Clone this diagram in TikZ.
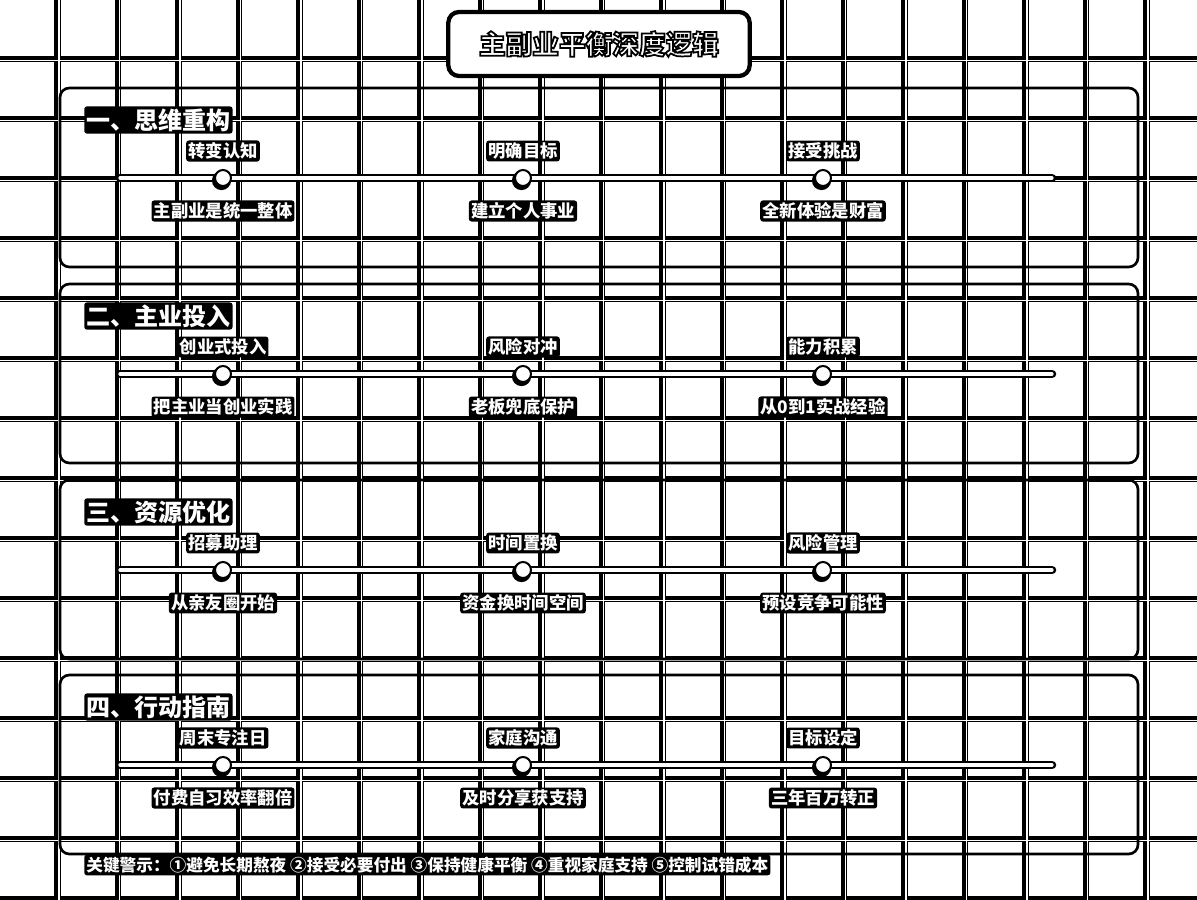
\documentclass[tikz,border=0pt]{standalone}
\usepackage{fontspec}
\setmainfont{Noto Sans CJK SC}
\usetikzlibrary{positioning}
% weisse Schrift mit schwarzem Rand
\newcommand{\umriss}[1]{\special{pdf:literal direct 2 Tr 1.3 w 0 G}#1\special{pdf:literal direct 0 Tr}}

\begin{document}
\begin{tikzpicture}[x=0.75pt, y=-0.75pt,
			raster/.style={line width=5pt, black},
			rasterhell/.style={line width=1.2pt, white},
			tafel/.style={draw=black, line width=2pt, rounded corners=7pt},
			zeitlinie/.style={draw=black, double=white, double distance=2.4pt, line width=2pt, line cap=round},
			punkt/.style={circle, fill=white, draw=black, line width=1.5pt, minimum size=12pt, inner sep=0pt},
			etikett/.style={fill=black, text=white, inner sep=1.6pt, rounded corners=2pt,
				font=\bfseries\fontsize{13}{15}\selectfont},
			kopf/.style={etikett, anchor=west, font=\bfseries\fontsize{18}{21}\selectfont},
			titelbox/.style={draw=black, fill=white, line width=3.2pt, rounded corners=8pt,
				minimum width=226pt, minimum height=48pt, text=white,
				font=\bfseries\fontsize{20}{24}\selectfont},
			hinweis/.style={etikett, anchor=west, font=\bfseries\fontsize{12.5}{15}\selectfont}]
			\useasboundingbox (0,0) rectangle (1197,900);
			%Raster zeichnen
			\foreach \k in {0,...,18} \draw[raster] ({57.5+60.5*\k},0) -- ({57.5+60.5*\k},900);
			\foreach \k in {0,...,14} \draw[raster] (0,{59+60*\k}) -- (1197,{59+60*\k});
			\foreach \k in {0,...,18} \draw[rasterhell] ({58.8+60.5*\k},0) -- ({58.8+60.5*\k},900);
			\foreach \k in {0,...,14} \draw[rasterhell] (0,{60.3+60*\k}) -- (1197,{60.3+60*\k});
			% Titel
			\node[titelbox] (titel) at (599,44) {\umriss{主副业平衡深度逻辑}};
			% Abschnitte
			\foreach \i/\c/\kopftext/\oa/\ob/\oc/\ua/\ub/\uc in {
				1/178/{一、思维重构}/转变认知/明确目标/接受挑战/主副业是统一整体/建立个人事业/全新体验是财富,
				2/374/{二、主业投入}/创业式投入/风险对冲/能力积累/把主业当创业实践/老板兜底保护/从0到1实战经验,
				3/570/{三、资源优化}/招募助理/时间置换/风险管理/从亲友圈开始/资金换时间空间/预设竞争可能性,
				4/765/{四、行动指南}/周末专注日/家庭沟通/目标设定/付费自习效率翻倍/及时分享获支持/三年百万转正}{
				\draw[tafel] (60,\c-90) rectangle (1138,\c+89);
				\node[kopf] (h\i) at (84,\c-58) {\kopftext};
				\coordinate (a\i) at (120,\c);
				\coordinate (b\i) at (1052,\c);
				\draw[zeitlinie] (a\i) -- (b\i);
				\foreach \j/\x/\o/\u in {1/223/\oa/\ua, 2/523/\ob/\ub, 3/823/\oc/\uc}{
					\fill[black] (\x-1.5,\c+2.5) circle (7.2pt);
					\node[punkt] (p\i\j) at (\x,\c) {};
					\node[etikett] (o\i\j) at (\x,\c-27) {\o};
					\node[etikett] (u\i\j) at (\x,\c+33) {\u};
				}
			}
			% Hinweis unten
			\node[hinweis] (warn) at (84,865) {关键警示：①避免长期熬夜 ②接受必要付出 ③保持健康平衡 ④重视家庭支持 ⑤控制试错成本};
\end{tikzpicture}
\end{document}
